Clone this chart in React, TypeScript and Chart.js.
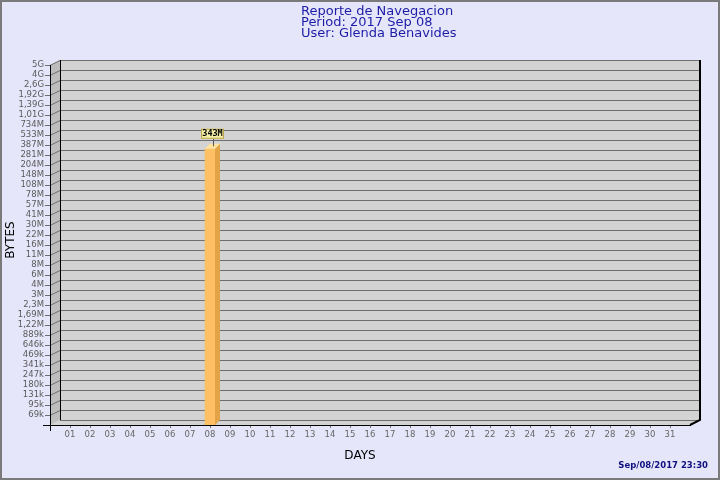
import React, { useEffect, useRef } from "react";
import { Chart, registerables } from "chart.js";

Chart.register(...registerables);

// ---- data ----
const days = [
  "01", "02", "03", "04", "05", "06", "07", "08", "09", "10",
  "11", "12", "13", "14", "15", "16", "17", "18", "19", "20",
  "21", "22", "23", "24", "25", "26", "27", "28", "29", "30", "31",
];
const bytesPerDay: (number | null)[] = [
  null, null, null, null, null, null, null, 343000000, null, null,
  null, null, null, null, null, null, null, null, null, null,
  null, null, null, null, null, null, null, null, null, null, null,
];
const yTickLabels = [
  "69k", "95k", "131k", "180k", "247k", "341k", "469k", "646k", "889k",
  "1,22M", "1,69M", "2,3M", "3M", "4M", "6M", "8M", "11M", "16M", "22M",
  "30M", "41M", "57M", "78M", "108M", "148M", "204M", "281M", "387M",
  "533M", "734M", "1,01G", "1,39G", "1,92G", "2,6G", "4G", "5G",
];
const titleLines = ["Reporte de Navegacion", "Period: 2017 Sep 08", "User: Glenda Benavides"];
const xTitle = "DAYS";
const yTitle = "BYTES";
const timestamp = "Sep/08/2017 23:30";

// log-axis tick geometry (first tick value and ratio between ticks)
const firstTick = 69000;
const tickRatio = 1.3767;

// 3D depth of the walls and bars
const WALL_DX = 10;
const WALL_DY = 5;
const BAR_D = 5;

const fmtBytes = (v: number) => `${Math.round(v / 1e6)}M`;

const decor = {
  id: "decor",
  beforeDraw(chart: any) {
    const { ctx, chartArea: a, scales } = chart;
    const W = chart.width, H = chart.height;
    ctx.save();
    ctx.fillStyle = "#e6e6fa";
    ctx.fillRect(0, 0, W, H);
    ctx.strokeStyle = "#7a7a7a";
    ctx.lineWidth = 2;
    ctx.strokeRect(1, 1, W - 2, H - 2);

    const L = a.left, R = a.right, T = a.top, B = a.bottom;
    // back wall
    ctx.fillStyle = "#d3d3d3";
    ctx.fillRect(L + WALL_DX, T - WALL_DY, R - L, B - T);
    // floor
    ctx.beginPath();
    ctx.moveTo(L, B);
    ctx.lineTo(L + WALL_DX, B - WALL_DY);
    ctx.lineTo(R + WALL_DX, B - WALL_DY);
    ctx.lineTo(R, B);
    ctx.closePath();
    ctx.fill();
    // left wall
    ctx.fillStyle = "#bdbdbd";
    ctx.beginPath();
    ctx.moveTo(L, T);
    ctx.lineTo(L + WALL_DX, T - WALL_DY);
    ctx.lineTo(L + WALL_DX, B - WALL_DY);
    ctx.lineTo(L, B);
    ctx.closePath();
    ctx.fill();

    // grid lines on back wall + slanted ticks
    const ys = scales.y;
    ctx.lineWidth = 1;
    ctx.strokeStyle = "#6e6e6e";
    ys.ticks.forEach((t: any) => {
      const p = Math.round(ys.getPixelForValue(t.value)) + 0.5;
      ctx.beginPath();
      ctx.moveTo(L + WALL_DX, p - WALL_DY);
      ctx.lineTo(R + WALL_DX, p - WALL_DY);
      ctx.stroke();
      ctx.beginPath();
      ctx.moveTo(L - 5, p);
      ctx.lineTo(L, p);
      ctx.lineTo(L + WALL_DX, p - WALL_DY);
      ctx.stroke();
    });
    // back wall bottom / top edges
    ctx.beginPath();
    ctx.moveTo(L + WALL_DX, B - WALL_DY + 0.5);
    ctx.lineTo(R + WALL_DX, B - WALL_DY + 0.5);
    ctx.stroke();
    ctx.beginPath();
    ctx.moveTo(L + WALL_DX, T - WALL_DY + 0.5);
    ctx.lineTo(R + WALL_DX, T - WALL_DY + 0.5);
    ctx.stroke();

    // dark edges
    ctx.strokeStyle = "#000";
    ctx.beginPath();
    ctx.moveTo(L + WALL_DX + 0.5, T - WALL_DY);
    ctx.lineTo(L + WALL_DX + 0.5, B - WALL_DY);
    ctx.stroke();
    ctx.lineWidth = 2;
    ctx.beginPath();
    ctx.moveTo(R + WALL_DX, T - WALL_DY);
    ctx.lineTo(R + WALL_DX, B - WALL_DY);
    ctx.lineTo(R, B);
    ctx.stroke();
    ctx.restore();
  },
  afterDatasetsDraw(chart: any) {
    const { ctx } = chart;
    const meta = chart.getDatasetMeta(0);
    ctx.save();
    meta.data.forEach((bar: any, i: number) => {
      const v = chart.data.datasets[0].data[i]?.y;
      if (v == null) return;
      const { x, y, base, width } = bar.getProps(["x", "y", "base", "width"], true);
      const l = x - width / 2, r = x + width / 2;
      // side face
      ctx.fillStyle = "#e3a447";
      ctx.beginPath();
      ctx.moveTo(r, y);
      ctx.lineTo(r + BAR_D, y - BAR_D);
      ctx.lineTo(r + BAR_D, base - BAR_D);
      ctx.lineTo(r, base);
      ctx.closePath();
      ctx.fill();
      // top face
      ctx.fillStyle = "#ffe39c";
      ctx.beginPath();
      ctx.moveTo(l, y);
      ctx.lineTo(l + BAR_D, y - BAR_D);
      ctx.lineTo(r + BAR_D, y - BAR_D);
      ctx.lineTo(r, y);
      ctx.closePath();
      ctx.fill();
      // value label
      const cx = x + BAR_D / 2;
      const boxB = y - BAR_D - 5;
      ctx.strokeStyle = "#555";
      ctx.lineWidth = 1;
      ctx.beginPath();
      ctx.moveTo(Math.round(cx) + 0.5, y - BAR_D / 2);
      ctx.lineTo(Math.round(cx) + 0.5, boxB);
      ctx.stroke();
      ctx.font = "bold 8.5px 'DejaVu Sans Mono'";
      const txt = fmtBytes(v);
      const tw = ctx.measureText(txt).width;
      const bw = Math.round(tw + 3), bh = 10;
      const bx = Math.round(cx - bw / 2);
      ctx.fillStyle = "#f4eea6";
      ctx.fillRect(bx, boxB - bh, bw, bh);
      ctx.strokeStyle = "#bba54a";
      ctx.strokeRect(bx + 0.5, boxB - bh + 0.5, bw - 1, bh - 1);
      ctx.fillStyle = "#000";
      ctx.textAlign = "center";
      ctx.textBaseline = "middle";
      ctx.fillText(txt, cx, boxB - bh / 2 + 0.5);
    });
    ctx.restore();
  },
  afterDraw(chart: any) {
    const { ctx, chartArea: a } = chart;
    ctx.save();
    // axis cross at origin
    ctx.strokeStyle = "#000";
    ctx.lineWidth = 1;
    ctx.beginPath();
    ctx.moveTo(a.left - 7, a.bottom + 0.5);
    ctx.lineTo(a.left, a.bottom + 0.5);
    ctx.moveTo(a.left + 0.5, a.bottom);
    ctx.lineTo(a.left + 0.5, a.bottom + 6);
    ctx.stroke();

    // title
    ctx.fillStyle = "#1c1ca6";
    ctx.font = "13px 'DejaVu Sans'";
    ctx.textAlign = "left";
    ctx.textBaseline = "alphabetic";
    titleLines.forEach((t, i) => ctx.fillText(t, 301, 15 + i * 11));

    // axis titles
    ctx.fillStyle = "#000";
    ctx.font = "12px 'DejaVu Sans'";
    ctx.textAlign = "center";
    ctx.textBaseline = "middle";
    ctx.fillText(xTitle, 360, 456);
    ctx.save();
    ctx.translate(11, 240);
    ctx.rotate(-Math.PI / 2);
    ctx.fillText(yTitle, 0, 0);
    ctx.restore();

    // timestamp
    ctx.fillStyle = "#101080";
    ctx.font = "bold 8.5px 'DejaVu Sans'";
    ctx.textAlign = "right";
    ctx.fillText(timestamp, 708, 466);
    ctx.restore();
  },
};

export default function App() {
  const ref = useRef<HTMLCanvasElement>(null);
  useEffect(() => {
    if (!ref.current) return;
    const chart = new Chart(ref.current, {
      type: "bar",
      data: {
        datasets: [
          {
            data: days.map((d, i) => ({ x: i + 1, y: bytesPerDay[i] })) as any,
            backgroundColor: "#fdc064",
            borderWidth: 0,
            barThickness: 10,
          },
        ],
      },
      options: {
        responsive: false,
        animation: false,
        devicePixelRatio: 1,
        layout: { padding: { top: 65, right: 30, left: 0, bottom: 0 } },
        plugins: { legend: { display: false }, tooltip: { enabled: false }, title: { display: false } },
        scales: {
          x: {
            type: "linear",
            offset: false,
            min: 0,
            max: days.length + 1,
            afterBuildTicks: (s: any) => {
              s.ticks = days.map((_, i) => ({ value: i + 1 }));
            },
            afterFit: (s: any) => {
              s.height = 55;
              s.paddingLeft = 0;
              s.paddingRight = 0;
            },
            ticks: {
              autoSkip: false,
              maxRotation: 0,
              padding: 2,
              color: "#666",
              font: { family: "'DejaVu Sans'", size: 8.5 },
              callback: (v: any, i: number) => days[i],
            },
            grid: { offset: false, drawOnChartArea: false, tickLength: 3, color: "#777" },
            border: { color: "#000", width: 1 },
          },
          y: {
            type: "logarithmic",
            min: firstTick / tickRatio,
            max: firstTick * Math.pow(tickRatio, yTickLabels.length - 1),
            afterBuildTicks: (s: any) => {
              s.ticks = yTickLabels.map((_, i) => ({ value: firstTick * Math.pow(tickRatio, i) }));
            },
            afterFit: (s: any) => {
              s.width = 50;
              s.paddingTop = 0;
              s.paddingBottom = 0;
            },
            ticks: {
              autoSkip: false,
              padding: 6,
              color: "#5a5a5a",
              font: { family: "'DejaVu Sans'", size: 8.5 },
              callback: (v: any, i: number) => yTickLabels[i],
            },
            grid: { display: false, drawTicks: false },
            border: { color: "#000", width: 1 },
          },
        },
      },
      plugins: [decor],
    });
    return () => chart.destroy();
  }, []);
  return (
    <div style={{ position: "absolute", left: 0, top: 0, width: 720, height: 480 }}>
      <canvas ref={ref} width={720} height={480} />
    </div>
  );
}
